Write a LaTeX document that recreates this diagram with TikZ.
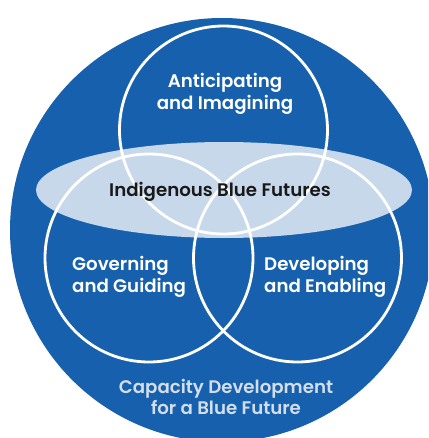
\documentclass[tikz,border=0pt]{standalone}
\usepackage{fontspec}
\setmainfont{Poppins}
\newfontfamily\medfont{Poppins SemiBold}
\definecolor{bigblue}{HTML}{1660AD}
\definecolor{paleblue}{HTML}{C8D8EB}
\definecolor{captxt}{HTML}{D3DEEC}
\begin{document}
\begin{tikzpicture}[x=1pt,y=-1pt,
  ring/.style={draw=white,line width=2.8pt},
  lbl/.style={text=white,font=\fontsize{18.2}{21.7}\medfont,inner sep=0pt}]
\useasboundingbox (0,0) rectangle (428,438);
\begin{scope}
\clip (0,0) rectangle (428,438);
\fill[bigblue] (222,230) circle[radius=212];
\end{scope}
\fill[paleblue] (224,190) ellipse[x radius=188,y radius=48];
\node[ring,circle,minimum size=208pt,inner sep=0pt] (top) at (223.5,130) {};
\node[ring,circle,minimum size=208pt,inner sep=0pt] (left) at (149,258) {};
\node[ring,circle,minimum size=208pt,inner sep=0pt] (right) at (297.5,258) {};
\node[lbl,align=center] (t1) at (225,94) {Anticipating\\and Imagining};
\node[text=black!90,font=\fontsize{18.2}{20}\medfont,inner sep=0pt] (ibf) at (220,192) {Indigenous Blue Futures};
\node[lbl,align=left,anchor=west] (t2) at (72,277) {Governing\\and Guiding};
\node[lbl,align=left,anchor=west] (t3) at (264,277) {Developing\\and Enabling};
\node[lbl,align=center,text=captxt] (t4) at (226,397) {Capacity Development\\for a Blue Future};
\end{tikzpicture}
\end{document}
